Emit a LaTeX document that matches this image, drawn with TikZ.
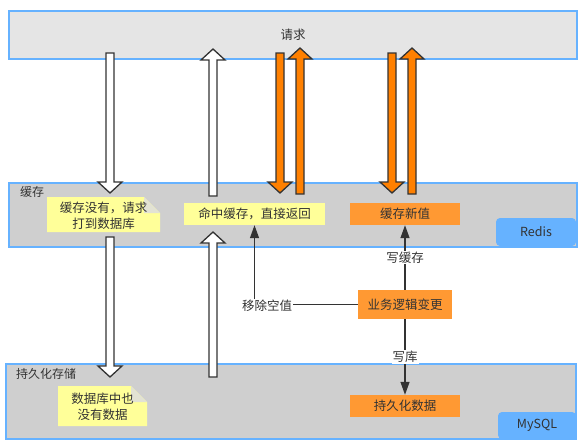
\documentclass[tikz,border=0pt]{standalone}
\usepackage{fontspec}
\setmainfont{Noto Sans CJK SC}
\usetikzlibrary{arrows.meta}
\definecolor{edgeblue}{HTML}{66B2FF}
\definecolor{toplight}{HTML}{E5E5E5}
\definecolor{layergray}{HTML}{CFCFCF}
\definecolor{noteyellow}{HTML}{FFFF99}
\definecolor{notefold}{HTML}{E2E2D4}
\definecolor{boxorange}{HTML}{FF9933}
\definecolor{arroworange}{HTML}{FF8000}
\definecolor{darkline}{HTML}{333333}
\definecolor{txt}{HTML}{333333}
\newcommand{\blkdown}[4]{%
  \draw[#1] (#2-4,#3) -- (#2-4,#4-11) -- (#2-12,#4-11) -- (#2,#4) -- (#2+12,#4-11) -- (#2+4,#4-11) -- (#2+4,#3) -- cycle;}
\newcommand{\blkup}[4]{%
  \draw[#1] (#2-4,#3) -- (#2-4,#4+11) -- (#2-12,#4+11) -- (#2,#4) -- (#2+12,#4+11) -- (#2+4,#4+11) -- (#2+4,#3) -- cycle;}
\begin{document}
\begin{tikzpicture}[x=1pt,y=-1pt,
  every node/.style={font=\fontsize{12.5}{16}\selectfont, text=txt},
  layer/.style={draw=edgeblue, line width=1.6pt, inner sep=0pt},
  plainbox/.style={inner sep=0pt, align=center},
  yellowbox/.style={plainbox, fill=noteyellow},
  orangebox/.style={plainbox, fill=boxorange},
  bluebox/.style={plainbox, fill=edgeblue, rounded corners=4pt},
  notefill/.style={fill=noteyellow},
  foldfill/.style={fill=notefold},
  whitearrow/.style={fill=white, draw=darkline, line width=1.3pt, line join=miter},
  orangearrow/.style={fill=arroworange, draw=darkline, line width=1.3pt, line join=miter},
  conn/.style={draw=darkline, line width=1.3pt, -{Triangle[length=13pt,width=9pt]}},
  connplain/.style={draw=darkline, line width=1.3pt},
  lbl/.style={fill=white, inner sep=1pt},
  layerlabel/.style={inner sep=0pt, anchor=west, font=\fontsize{12}{14}\selectfont}
]
\useasboundingbox (0,0) rectangle (585,444);
% layers
\node[layer, fill=toplight, minimum width=568pt, minimum height=48pt] (req) at (293,35) {请求};
\node[layer, fill=layergray, minimum width=568pt, minimum height=64pt] (cache) at (293,215) {};
\node[layer, fill=layergray, minimum width=570pt, minimum height=75pt] (db) at (291,401.5) {};
\node[layerlabel] (cachelbl) at (20,192) {缓存};
\node[layerlabel] (dblbl) at (16,374) {持久化存储};
% notes
\path[notefill] (47,197) -- (144,197) -- (160,213) -- (160,232) -- (47,232) -- cycle;
\path[foldfill] (144,197) -- (144,213) -- (160,213) -- cycle;
\node[plainbox] (miss) at (103.5,215.5) {缓存没有，请求\\打到数据库};
\path[notefill] (58,386) -- (131,386) -- (147,402) -- (147,426) -- (58,426) -- cycle;
\path[foldfill] (131,386) -- (131,402) -- (147,402) -- cycle;
\node[plainbox] (dbmiss) at (102.5,407) {数据库中也\\没有数据};
% boxes
\node[yellowbox, minimum width=141pt, minimum height=22pt] (hit) at (254.5,214) {命中缓存，直接返回};
\node[orangebox, minimum width=110pt, minimum height=22pt] (newval) at (405,214) {缓存新值};
\node[orangebox, minimum width=94pt, minimum height=29pt] (biz) at (405,304.5) {业务逻辑变更};
\node[orangebox, minimum width=110pt, minimum height=22pt] (persist) at (405,406) {持久化数据};
\node[bluebox, minimum width=80pt, minimum height=28pt] (redis) at (536,232) {Redis};
\node[bluebox, minimum width=78pt, minimum height=27pt] (mysql) at (537,425.5) {MySQL};
% block arrows
\blkdown{whitearrow}{110}{53}{193}
\blkup{whitearrow}{213}{196}{49}
\blkdown{orangearrow}{280}{53}{193}
\blkup{orangearrow}{300}{194}{48}
\blkdown{orangearrow}{392}{53}{193}
\blkup{orangearrow}{412}{194}{48}
\blkdown{whitearrow}{110}{237}{377}
\blkup{whitearrow}{213}{377}{232}
% connectors
\draw[conn] (biz.west) -| (hit.south);
\node[lbl] (rmnull) at (267,306) {移除空值};
\draw[conn] (biz.north) -- (newval.south) node[midway, lbl] (wcache) {写缓存};
\draw[conn] (biz.south) -- (persist.north) node[midway, lbl] (wdb) {写库};
\end{tikzpicture}
\end{document}
